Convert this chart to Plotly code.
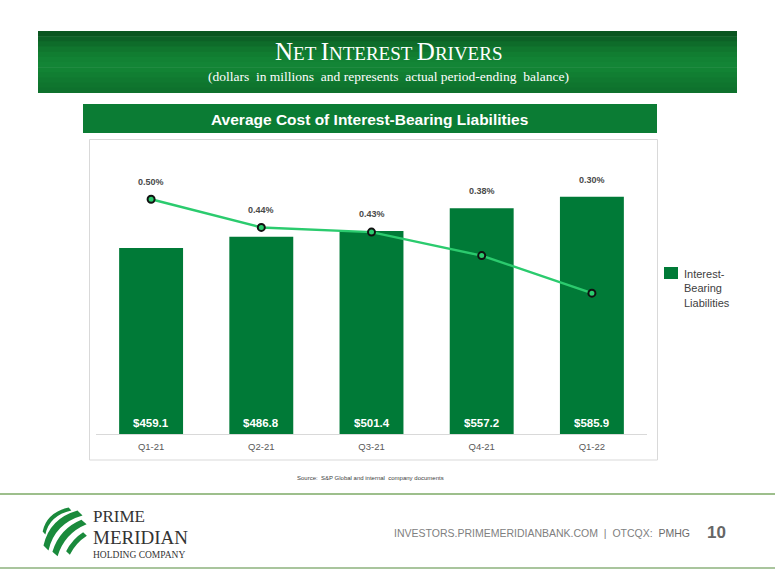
import plotly.graph_objects as go

W, H = 775, 581

categories = ["Q1-21", "Q2-21", "Q3-21", "Q4-21", "Q1-22"]
liabilities = [459.1, 486.8, 501.4, 557.2, 585.9]
avg_cost_pct = [0.50, 0.44, 0.43, 0.38, 0.30]
bar_labels = ["$459.1", "$486.8", "$501.4", "$557.2", "$585.9"]
pct_labels = ["0.50%", "0.44%", "0.43%", "0.38%", "0.30%"]

BAR_GREEN = "#007A37"
LINE_GREEN = "#2BCB6E"
SANS = "Liberation Sans, Arial"
SERIF = "Liberation Serif, Times New Roman, serif"

def px(x):
    return x / W

def py(y):
    return 1 - y / H

# plot area in pixels
PX0, PX1, PY_TOP, PY_BOT = 96, 647, 150, 434
plot_h = PY_BOT - PY_TOP
y1_max = plot_h * 2.4685
y2_max = plot_h / 469.5

fig = go.Figure()
fig.add_trace(go.Bar(
    x=categories, y=liabilities, marker=dict(color=BAR_GREEN, line=dict(width=0)),
    name="Interest-Bearing Liabilities", showlegend=False, hoverinfo="skip"))
fig.add_trace(go.Scatter(
    x=categories, y=avg_cost_pct, yaxis="y2", mode="lines+markers",
    line=dict(color=LINE_GREEN, width=2.5),
    marker=dict(size=7, color=LINE_GREEN, line=dict(color="#111111", width=2)),
    showlegend=False, hoverinfo="skip"))

annotations = []
shapes = []

def note(x, y, text, size, color, family=SANS, xanchor="center", yanchor="middle", **kw):
    annotations.append(dict(x=px(x), y=py(y), xref="paper", yref="paper", text=text,
                            showarrow=False, xanchor=xanchor, yanchor=yanchor,
                            font=dict(family=family, size=size, color=color), **kw))

# bar value labels
for c, lab in zip(categories, bar_labels):
    annotations.append(dict(x=c, y=0, xref="x", yref="y", text="<b>%s</b>" % lab,
                            showarrow=False, xanchor="center", yanchor="bottom", yshift=3,
                            font=dict(family=SANS, size=11.5, color="white")))
# percent labels above max(bar top, point)
ratio = y2_max / y1_max
for c, v, p, lab in zip(categories, liabilities, avg_cost_pct, pct_labels):
    yy = max(p, v * ratio)
    annotations.append(dict(x=c, y=yy, xref="x", yref="y2", text="<b>%s</b>" % lab,
                            showarrow=False, xanchor="center", yanchor="bottom", yshift=10,
                            font=dict(family=SANS, size=9, color="#4a4a4a")))

# header banner gradient
grad = ["#0a5520", "#0c6126", "#0e6c2a", "#10762e", "#117d31", "#128234", "#138536",
        "#128334", "#117e32", "#107930", "#0f752e", "#0e712d"]
top, bot = 31, 93
n = len(grad)
for i, col in enumerate(grad):
    y0 = top + (bot - top) * i / n
    y1 = top + (bot - top) * (i + 1) / n + 0.6
    shapes.append(dict(type="rect", xref="paper", yref="paper", x0=px(38), x1=px(737),
                       y0=py(y0), y1=py(min(y1, bot)), fillcolor=col, line=dict(width=0), layer="below"))

title_html = ("<span style='font-size:25px'>N</span><span style='font-size:19px'>ET </span>"
              "<span style='font-size:25px'>I</span><span style='font-size:19px'>NTEREST </span>"
              "<span style='font-size:25px'>D</span><span style='font-size:19px'>RIVERS</span>")
note(388, 52, title_html, 25, "white", family=SERIF)
note(388, 76, "(dollars  in millions  and represents  actual period-ending  balance)", 13.5, "white", family=SERIF)

# chart title bar
shapes.append(dict(type="rect", xref="paper", yref="paper", x0=px(83), x1=px(657), y0=py(104), y1=py(133),
                   fillcolor="#0B7C34", line=dict(width=0), layer="below"))
note(369, 119, "<b>Average Cost of Interest-Bearing Liabilities</b>", 15.5, "white")

# chart box
shapes.append(dict(type="rect", xref="paper", yref="paper", x0=px(89.5), x1=px(657.5), y0=py(139.5), y1=py(460),
                   fillcolor="rgba(0,0,0,0)", line=dict(color="#D9D9D9", width=1), layer="below"))

# legend
shapes.append(dict(type="rect", xref="paper", yref="paper", x0=px(664), x1=px(678), y0=py(267), y1=py(279),
                   fillcolor=BAR_GREEN, line=dict(width=0)))
note(682, 266, "Interest-<br>Bearing<br>Liabilities", 11, "#404040", xanchor="left", yanchor="top", align="left")

# source
note(370, 478, "Source:  S&P Global and internal  company documents", 6, "#404040")

# footer lines
shapes.append(dict(type="line", xref="paper", yref="paper", x0=0, x1=1, y0=py(494), y1=py(494),
                   line=dict(color="#9DBF8C", width=2)))
shapes.append(dict(type="line", xref="paper", yref="paper", x0=0, x1=1, y0=py(568), y1=py(568),
                   line=dict(color="#8DB27C", width=1.5)))

# logo stripes (curved bands)
LOGO_GREEN = "#1A8A3C"
stripe_defs = [  # start, control, end, thickness
    ((44, 533), (48, 514), (70, 509), 4),
    ((46, 548), (52, 521), (80, 513), 7),
    ((55, 554), (62, 531), (84, 522), 7),
    ((68, 553), (74, 541), (85, 534), 5),
]
for A, C, B, t in stripe_defs:
    dx, dy = B[0] - A[0], B[1] - A[1]
    L = (dx * dx + dy * dy) ** 0.5
    nx, ny = -dy / L * t / 2, dx / L * t / 2
    pts_up = [(A[0] + nx, A[1] + ny), (C[0] + nx, C[1] + ny), (B[0] + nx, B[1] + ny)]
    pts_dn = [(A[0] - nx, A[1] - ny), (C[0] - nx, C[1] - ny), (B[0] - nx, B[1] - ny)]
    f = lambda p: "%.5f,%.5f" % (px(p[0]), py(p[1]))
    path = "M %s Q %s %s L %s Q %s %s Z" % (f(pts_up[0]), f(pts_up[1]), f(pts_up[2]),
                                             f(pts_dn[2]), f(pts_dn[1]), f(pts_dn[0]))
    shapes.append(dict(type="path", xref="paper", yref="paper", path=path,
                       fillcolor=LOGO_GREEN, line=dict(width=0)))

note(92, 516.5, "PRIME", 17, "#333333", family=SERIF, xanchor="left", borderpad=0)
note(92, 537.5, "MERIDIAN", 19, "#333333", family=SERIF, xanchor="left", borderpad=0)
note(92, 554.5, "HOLDING COMPANY", 9.5, "#333333", family=SERIF, xanchor="left", borderpad=0)

# footer right text
note(392, 533, "INVESTORS.PRIMEMERIDIANBANK.COM  |  OTCQX:  <span style='color:#6b6b6b'>PMHG</span>",
     10.5, "#808080", xanchor="left")
note(728, 532, "<b>10</b>", 17, "#666666", xanchor="right")

fig.update_layout(
    width=W, height=H, margin=dict(l=0, r=0, t=0, b=0),
    paper_bgcolor="white", plot_bgcolor="rgba(0,0,0,0)",
    bargap=0.42, showlegend=False,
    xaxis=dict(domain=[px(PX0), px(PX1)], showline=True, linecolor="#D9D9D9", linewidth=1,
               showgrid=False, zeroline=False, ticks="", ticklabelstandoff=4,
               tickfont=dict(family=SANS, size=9.5, color="#595959")),
    yaxis=dict(domain=[py(PY_BOT), py(PY_TOP)], range=[0, y1_max], visible=False, fixedrange=True),
    yaxis2=dict(domain=[py(PY_BOT), py(PY_TOP)], range=[0, y2_max], overlaying="y", visible=False),
    annotations=annotations, shapes=shapes,
)

fig.write_html("out.html", config={"displayModeBar": False},
               post_script="document.body.style.margin='0';document.body.style.padding='0';")
